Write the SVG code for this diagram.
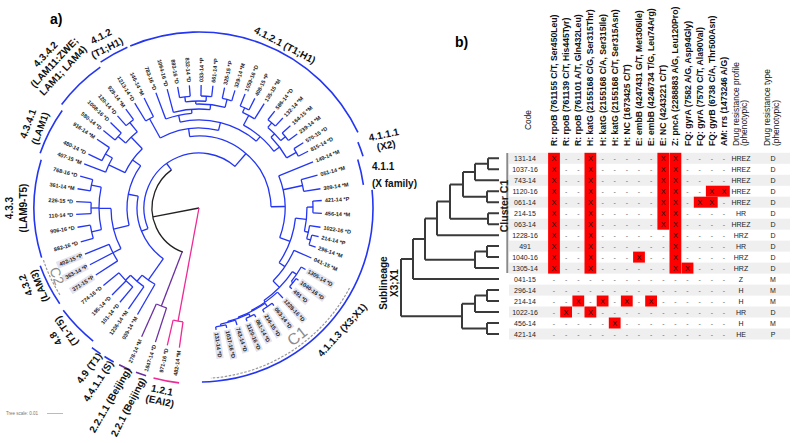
<svg xmlns="http://www.w3.org/2000/svg" width="793" height="443" viewBox="0 0 793 443">
<style>
text{font-family:"Liberation Sans",Arial,sans-serif}
.lf{font-size:5.5px;font-weight:bold;fill:#222}
.ln{font-size:10px;font-weight:bold;fill:#111}
.hd{font-size:8.6px;font-weight:bold;fill:#111}
.hn{font-size:8.4px;fill:#111}
.cd{font-size:7px;fill:#222;text-anchor:middle}
.dx{font-size:7.5px;fill:#111;text-anchor:middle}
.ds{font-size:7px;fill:#666;text-anchor:middle}
.blu{stroke:#2436f2;fill:none;stroke-width:1.3}
.arcL{fill:none;stroke-width:1.6}
.dd{stroke:#3a3a3a;stroke-width:2;fill:none}
</style>
<rect width="793" height="443" fill="#fff"/>
<text x="50" y="24" style="font-size:14px;font-weight:bold">a)</text>
<text x="455" y="47" style="font-size:14px;font-weight:bold">b)</text>

<!-- ===== Panel a: circular tree connectors ===== -->
<g id="tree-connectors" transform="translate(199 208)">
 <g stroke="#222" fill="none" stroke-width="1.3">
  <path d="M0 0H47" transform="rotate(169)"/>
  <circle r="47" stroke-dasharray="101.72 1000" transform="rotate(110)"/>
 </g>
 <g stroke="#ee2a96" fill="none" stroke-width="1.3">
  <path d="M0 0H115" transform="rotate(100.5)"/>
  <circle r="115" stroke-dasharray="10.04 1000" transform="rotate(98)"/>
  <path d="M115 0H141" transform="rotate(98)"/>
  <path d="M115 0H141" transform="rotate(103)"/>
 </g>
 <g stroke="#6b2fa0" fill="none" stroke-width="1.3">
  <path d="M47 0H105" transform="rotate(111)"/>
  <circle r="105" stroke-dasharray="11 1000" transform="rotate(108)"/>
  <path d="M105 0H141" transform="rotate(108)"/>
  <path d="M105 0H141" transform="rotate(114)"/>
 </g>
 <g class="blu">
  <path d="M47 0H55" transform="rotate(234)"/>
  <path d="M55 0H62" transform="rotate(158)"/>
  <path d="M55 0H72" transform="rotate(310.8)"/>
  <path d="M62 0H88" transform="rotate(125.1)"/>
  <path d="M88 0H123" transform="rotate(120)"/>
  <path d="M88 0H96" transform="rotate(130.25)"/>
  <path d="M96 0H123" transform="rotate(125)"/>
  <path d="M96 0H103" transform="rotate(135.5)"/>
  <path d="M103 0H123" transform="rotate(130)"/>
  <path d="M103 0H123" transform="rotate(135)"/>
  <path d="M103 0H123" transform="rotate(141)"/>
  <path d="M62 0H72" transform="rotate(191)"/>
  <path d="M72 0H88" transform="rotate(166.1)"/>
  <path d="M88 0H97" transform="rotate(152.5)"/>
  <path d="M97 0H123" transform="rotate(147)"/>
  <path d="M97 0H123" transform="rotate(152.5)"/>
  <path d="M97 0H123" transform="rotate(158)"/>
  <path d="M88 0H100" transform="rotate(179.75)"/>
  <path d="M100 0H110" transform="rotate(167.5)"/>
  <path d="M110 0H123" transform="rotate(164)"/>
  <path d="M110 0H123" transform="rotate(171)"/>
  <path d="M100 0H108" transform="rotate(180)"/>
  <path d="M108 0H123" transform="rotate(177)"/>
  <path d="M108 0H123" transform="rotate(183)"/>
  <path d="M100 0H110" transform="rotate(192)"/>
  <path d="M110 0H123" transform="rotate(189)"/>
  <path d="M110 0H123" transform="rotate(195)"/>
  <path d="M72 0H82" transform="rotate(215.9)"/>
  <path d="M82 0H100" transform="rotate(205.5)"/>
  <path d="M100 0H123" transform="rotate(201)"/>
  <path d="M100 0H108" transform="rotate(210)"/>
  <path d="M108 0H123" transform="rotate(206)"/>
  <path d="M108 0H123" transform="rotate(214)"/>
  <path d="M82 0H98" transform="rotate(226.25)"/>
  <path d="M98 0H108" transform="rotate(221.5)"/>
  <path d="M108 0H123" transform="rotate(219)"/>
  <path d="M108 0H123" transform="rotate(224)"/>
  <path d="M98 0H110" transform="rotate(231)"/>
  <path d="M110 0H123" transform="rotate(228.5)"/>
  <path d="M110 0H123" transform="rotate(233.5)"/>
  <path d="M72 0H80" transform="rotate(262.55)"/>
  <path d="M80 0H102" transform="rotate(241)"/>
  <path d="M102 0H123" transform="rotate(238.5)"/>
  <path d="M102 0H123" transform="rotate(243.5)"/>
  <path d="M80 0H88" transform="rotate(284.1)"/>
  <path d="M88 0H95" transform="rotate(257.6)"/>
  <path d="M95 0H123" transform="rotate(249.5)"/>
  <path d="M95 0H99" transform="rotate(265.7)"/>
  <path d="M99 0H123" transform="rotate(255)"/>
  <path d="M99 0H104" transform="rotate(276.4)"/>
  <path d="M104 0H107" transform="rotate(268.25)"/>
  <path d="M107 0H112" transform="rotate(262.75)"/>
  <path d="M107 0H112" transform="rotate(273.75)"/>
  <path d="M104 0H112" transform="rotate(284.5)"/>
  <path d="M112 0H123" transform="rotate(260)"/>
  <path d="M112 0H123" transform="rotate(265.5)"/>
  <path d="M112 0H123" transform="rotate(271)"/>
  <path d="M112 0H123" transform="rotate(276.5)"/>
  <path d="M112 0H123" transform="rotate(282)"/>
  <path d="M112 0H123" transform="rotate(287)"/>
  <path d="M88 0H94" transform="rotate(310.6)"/>
  <path d="M94 0H105" transform="rotate(298.25)"/>
  <path d="M105 0H110" transform="rotate(294.5)"/>
  <path d="M110 0H123" transform="rotate(292)"/>
  <path d="M110 0H123" transform="rotate(297)"/>
  <path d="M105 0H123" transform="rotate(302)"/>
  <path d="M94 0H101" transform="rotate(322.9)"/>
  <path d="M101 0H106" transform="rotate(315.5)"/>
  <path d="M106 0H112" transform="rotate(310.5)"/>
  <path d="M106 0H112" transform="rotate(320.5)"/>
  <path d="M101 0H112" transform="rotate(330.25)"/>
  <path d="M112 0H123" transform="rotate(308)"/>
  <path d="M112 0H123" transform="rotate(313)"/>
  <path d="M112 0H123" transform="rotate(318)"/>
  <path d="M112 0H123" transform="rotate(323)"/>
  <path d="M112 0H123" transform="rotate(328)"/>
  <path d="M112 0H123" transform="rotate(332.5)"/>
  <path d="M72 0H86" transform="rotate(359)"/>
  <path d="M86 0H123" transform="rotate(338)"/>
  <path d="M86 0H106" transform="rotate(347.75)"/>
  <path d="M106 0H123" transform="rotate(344.5)"/>
  <path d="M106 0H123" transform="rotate(351)"/>
  <path d="M86 0H97" transform="rotate(20.15)"/>
  <path d="M97 0H108" transform="rotate(6)"/>
  <path d="M108 0H114" transform="rotate(-0.5)"/>
  <path d="M114 0H123" transform="rotate(-3.5)"/>
  <path d="M114 0H123" transform="rotate(2.5)"/>
  <path d="M108 0H112" transform="rotate(12.5)"/>
  <path d="M112 0H123" transform="rotate(9)"/>
  <path d="M112 0H116" transform="rotate(16)"/>
  <path d="M116 0H123" transform="rotate(13.5)"/>
  <path d="M116 0H123" transform="rotate(18.5)"/>
  <path d="M97 0H104" transform="rotate(34.3)"/>
  <path d="M104 0H123" transform="rotate(24)"/>
  <path d="M104 0H113" transform="rotate(44.6)"/>
  <path d="M113 0H118" transform="rotate(34.25)"/>
  <path d="M118 0H123" transform="rotate(30)"/>
  <path d="M118 0H120" transform="rotate(38.5)"/>
  <path d="M120 0H123" transform="rotate(36)"/>
  <path d="M120 0H123" transform="rotate(41)"/>
  <path d="M113 0H115" transform="rotate(54.9)"/>
  <path d="M115 0H123" transform="rotate(47)"/>
  <path d="M115 0H116" transform="rotate(62.75)"/>
  <path d="M116 0H120" transform="rotate(55.25)"/>
  <path d="M120 0H123" transform="rotate(52.5)"/>
  <path d="M120 0H123" transform="rotate(58)"/>
  <path d="M116 0H117" transform="rotate(70.25)"/>
  <path d="M117 0H120" transform="rotate(64.75)"/>
  <path d="M120 0H123" transform="rotate(62.5)"/>
  <path d="M120 0H123" transform="rotate(67)"/>
  <path d="M117 0H118" transform="rotate(75.75)"/>
  <path d="M118 0H123" transform="rotate(72)"/>
  <path d="M118 0H120" transform="rotate(79.5)"/>
  <path d="M120 0H123" transform="rotate(77)"/>
  <path d="M120 0H123" transform="rotate(82)"/>
  <circle r="55" stroke-dasharray="146.68 1000" transform="rotate(158)"/>
  <circle r="62" stroke-dasharray="71.31 1000" transform="rotate(125.1)"/>
  <circle r="88" stroke-dasharray="15.74 1000" transform="rotate(120)"/>
  <circle r="96" stroke-dasharray="17.59 1000" transform="rotate(125)"/>
  <circle r="103" stroke-dasharray="19.77 1000" transform="rotate(130)"/>
  <circle r="72" stroke-dasharray="62.58 1000" transform="rotate(166.1)"/>
  <circle r="88" stroke-dasharray="41.85 1000" transform="rotate(152.5)"/>
  <circle r="97" stroke-dasharray="18.62 1000" transform="rotate(147)"/>
  <circle r="100" stroke-dasharray="42.76 1000" transform="rotate(167.5)"/>
  <circle r="110" stroke-dasharray="11.52 1000" transform="rotate(189)"/>
  <circle r="108" stroke-dasharray="11.31 1000" transform="rotate(177)"/>
  <circle r="110" stroke-dasharray="13.44 1000" transform="rotate(164)"/>
  <circle r="82" stroke-dasharray="29.70 1000" transform="rotate(205.5)"/>
  <circle r="100" stroke-dasharray="15.71 1000" transform="rotate(201)"/>
  <circle r="108" stroke-dasharray="15.08 1000" transform="rotate(206)"/>
  <circle r="98" stroke-dasharray="16.25 1000" transform="rotate(221.5)"/>
  <circle r="108" stroke-dasharray="9.42 1000" transform="rotate(219)"/>
  <circle r="110" stroke-dasharray="9.60 1000" transform="rotate(228.5)"/>
  <circle r="72" stroke-dasharray="121.20 1000" transform="rotate(262.55)"/>
  <circle r="80" stroke-dasharray="60.18 1000" transform="rotate(241)"/>
  <circle r="102" stroke-dasharray="8.90 1000" transform="rotate(238.5)"/>
  <circle r="88" stroke-dasharray="81.40 1000" transform="rotate(257.6)"/>
  <circle r="95" stroke-dasharray="26.86 1000" transform="rotate(249.5)"/>
  <circle r="99" stroke-dasharray="36.98 1000" transform="rotate(255)"/>
  <circle r="104" stroke-dasharray="29.50 1000" transform="rotate(268.25)"/>
  <circle r="107" stroke-dasharray="20.54 1000" transform="rotate(262.75)"/>
  <circle r="112" stroke-dasharray="10.75 1000" transform="rotate(260)"/>
  <circle r="112" stroke-dasharray="10.75 1000" transform="rotate(271)"/>
  <circle r="112" stroke-dasharray="9.77 1000" transform="rotate(282)"/>
  <circle r="94" stroke-dasharray="40.44 1000" transform="rotate(298.25)"/>
  <circle r="105" stroke-dasharray="13.74 1000" transform="rotate(294.5)"/>
  <circle r="110" stroke-dasharray="9.60 1000" transform="rotate(292)"/>
  <circle r="101" stroke-dasharray="26.0 1000" transform="rotate(315.5)"/>
  <circle r="106" stroke-dasharray="18.50 1000" transform="rotate(310.5)"/>
  <circle r="112" stroke-dasharray="9.77 1000" transform="rotate(308)"/>
  <circle r="112" stroke-dasharray="9.77 1000" transform="rotate(318)"/>
  <circle r="112" stroke-dasharray="8.80 1000" transform="rotate(328)"/>
  <circle r="86" stroke-dasharray="63.27 1000" transform="rotate(338)"/>
  <circle r="106" stroke-dasharray="12.03 1000" transform="rotate(344.5)"/>
  <circle r="97" stroke-dasharray="47.91 1000" transform="rotate(6)"/>
  <circle r="108" stroke-dasharray="24.50 1000" transform="rotate(-0.5)"/>
  <circle r="114" stroke-dasharray="11.94 1000" transform="rotate(-3.5)"/>
  <circle r="112" stroke-dasharray="13.68 1000" transform="rotate(9)"/>
  <circle r="116" stroke-dasharray="10.12 1000" transform="rotate(13.5)"/>
  <circle r="104" stroke-dasharray="37.39 1000" transform="rotate(24)"/>
  <circle r="113" stroke-dasharray="40.73 1000" transform="rotate(34.25)"/>
  <circle r="118" stroke-dasharray="17.51 1000" transform="rotate(30)"/>
  <circle r="120" stroke-dasharray="10.47 1000" transform="rotate(36)"/>
  <circle r="115" stroke-dasharray="31.91 1000" transform="rotate(47)"/>
  <circle r="116" stroke-dasharray="30.37 1000" transform="rotate(55.25)"/>
  <circle r="120" stroke-dasharray="11.52 1000" transform="rotate(52.5)"/>
  <circle r="117" stroke-dasharray="22.46 1000" transform="rotate(64.75)"/>
  <circle r="120" stroke-dasharray="9.42 1000" transform="rotate(62.5)"/>
  <circle r="118" stroke-dasharray="15.45 1000" transform="rotate(72)"/>
  <circle r="120" stroke-dasharray="10.47 1000" transform="rotate(77)"/>
 </g>
 <!-- lineage arcs -->
 <g class="arcL" stroke="#2436f2">
  <circle r="176" stroke-dasharray="30.72 1200" transform="rotate(236)"/>
  <circle r="176" stroke-dasharray="268.77 1200" transform="rotate(247)"/>
  <circle r="172" stroke-dasharray="15.01 1200" transform="rotate(337.5)"/>
  <circle r="166" stroke-dasharray="26.08 1200" transform="rotate(343)"/>
  <circle r="174" stroke-dasharray="288.5 1200" transform="rotate(354)"/>
  <circle r="172" stroke-dasharray="54.04 1200" transform="rotate(217)"/>
  <circle r="168" stroke-dasharray="48.38 1200" transform="rotate(199)"/>
  <circle r="165" stroke-dasharray="99.35 1200" transform="rotate(162.5)"/>
  <circle r="169" stroke-dasharray="42.77 1200" transform="rotate(145.5)"/>
  <circle r="170" stroke-dasharray="43.02 1200" transform="rotate(128.5)"/>
  <circle r="176" stroke-dasharray="10.75 1200" transform="rotate(124)"/>
  <circle r="176" stroke-dasharray="10.75 1200" transform="rotate(119)"/>
 </g>
 <g class="arcL" stroke="#6b2fa0">
  <circle r="176" stroke-dasharray="12.29 1200" transform="rotate(113)"/>
  <circle r="176" stroke-dasharray="10.75 1200" transform="rotate(107.5)"/>
 </g>
 <g class="arcL" stroke="#ee2a96">
  <circle r="176" stroke-dasharray="26.11 1200" transform="rotate(96.5)"/>
 </g>
</g>
<g id="cluster-dashes" fill="none" stroke="#999" stroke-width="1.2" stroke-dasharray="2.5 1.5">
 <path d="M349.5 288.05A170.5 170.5 0 0 1 210.9 378.1"/>
 <path d="M59.9 294.9A164 164 0 0 1 43 258.7"/>
</g>

<!-- leaves -->
<g id="leaves" class="lf" transform="translate(199 208)">
 <g fill="#e3e3ef">
  <rect transform="rotate(82)" x="125" y="-3.6" width="27" height="7.2"/>
  <rect transform="rotate(77)" x="125" y="-3.6" width="30" height="7.2"/>
  <rect transform="rotate(72)" x="125" y="-3.6" width="27" height="7.2"/>
  <rect transform="rotate(67)" x="125" y="-3.6" width="30" height="7.2"/>
  <rect transform="rotate(62.5)" x="125" y="-3.6" width="27" height="7.2"/>
  <rect transform="rotate(58)" x="125" y="-3.6" width="27" height="7.2"/>
  <rect transform="rotate(52.5)" x="125" y="-3.6" width="27" height="7.2"/>
  <rect transform="rotate(47)" x="125" y="-3.6" width="30" height="7.2"/>
  <rect transform="rotate(41)" x="125" y="-3.6" width="19" height="7.2"/>
  <rect transform="rotate(36)" x="125" y="-3.6" width="30" height="7.2"/>
  <rect transform="rotate(30)" x="125" y="-3.6" width="30" height="7.2"/>
  <rect transform="rotate(-22)" x="-153" y="-3.6" width="27" height="7.2"/>
  <rect transform="rotate(-27.5)" x="-153" y="-3.6" width="27" height="7.2"/>
  <rect transform="rotate(-33)" x="-153" y="-3.6" width="27" height="7.2"/>
 </g>
 <g id="leaf-right">
  <text transform="rotate(82)" x="126" dy=".35em">131-14 *D</text>
  <text transform="rotate(77)" x="126" dy=".35em">1037-16 *D</text>
  <text transform="rotate(72)" x="126" dy=".35em">743-14 *D</text>
  <text transform="rotate(67)" x="126" dy=".35em">1120-16 *D</text>
  <text transform="rotate(62.5)" x="126" dy=".35em">061-14 *D</text>
  <text transform="rotate(58)" x="126" dy=".35em">214-15 *D</text>
  <text transform="rotate(52.5)" x="126" dy=".35em">063-14 *D</text>
  <text transform="rotate(47)" x="126" dy=".35em">1228-16 *D</text>
  <text transform="rotate(41)" x="126" dy=".35em">491 *D</text>
  <text transform="rotate(36)" x="126" dy=".35em">1040-16 *D</text>
  <text transform="rotate(30)" x="126" dy=".35em">1305-14 *D</text>
  <text transform="rotate(24)" x="126" dy=".35em">041-15 *M</text>
  <text transform="rotate(18.5)" x="126" dy=".35em">296-14 *M</text>
  <text transform="rotate(13.5)" x="126" dy=".35em">214-14 *P</text>
  <text transform="rotate(9)" x="126" dy=".35em">1022-16 *D</text>
  <text transform="rotate(2.5)" x="126" dy=".35em">456-14 *M</text>
  <text transform="rotate(-3.5)" x="126" dy=".35em">421-14 *P</text>
  <text transform="rotate(-9)" x="126" dy=".35em">309-14 *M</text>
  <text transform="rotate(-15.5)" x="126" dy=".35em">051-14 *M</text>
  <text transform="rotate(-22)" x="126" dy=".35em">149-14 *M</text>
  <text transform="rotate(-27.5)" x="126" dy=".35em">815-14 *D</text>
  <text transform="rotate(-32)" x="126" dy=".35em">570-15 *D</text>
  <text transform="rotate(-37)" x="126" dy=".35em">239-14 *M</text>
  <text transform="rotate(-42)" x="126" dy=".35em">164-15 *M</text>
  <text transform="rotate(-47)" x="126" dy=".35em">132-14 *M</text>
  <text transform="rotate(-52)" x="126" dy=".35em">586-14 *D</text>
  <text transform="rotate(-58)" x="126" dy=".35em">135-15 *M</text>
  <text transform="rotate(-63)" x="126" dy=".35em">408-15 *P</text>
  <text transform="rotate(-68)" x="126" dy=".35em">1059-16 *D</text>
  <text transform="rotate(-73)" x="126" dy=".35em">329-14 *M</text>
  <text transform="rotate(-78)" x="126" dy=".35em">325-15 *P</text>
  <text transform="rotate(-83.5)" x="126" dy=".35em">661-14 *P</text>
  <text transform="rotate(-89)" x="126" dy=".35em">033-14 *P</text>
 </g>
 <g id="leaf-left" text-anchor="end">
  <text transform="rotate(85.5)" x="-126" dy=".35em">832-14 *D</text>
  <text transform="rotate(80)" x="-126" dy=".35em">893-16 *D</text>
  <text transform="rotate(75)" x="-126" dy=".35em">1064-16 *D</text>
  <text transform="rotate(69.5)" x="-126" dy=".35em">783-16 *D</text>
  <text transform="rotate(63.5)" x="-126" dy=".35em">146-14 *M</text>
  <text transform="rotate(58.5)" x="-126" dy=".35em">1213-14 *D</text>
  <text transform="rotate(53.5)" x="-126" dy=".35em">929-14 *M</text>
  <text transform="rotate(48.5)" x="-126" dy=".35em">120-14 *D</text>
  <text transform="rotate(44)" x="-126" dy=".35em">1008-16 *D</text>
  <text transform="rotate(39)" x="-126" dy=".35em">580-14 *D</text>
  <text transform="rotate(34)" x="-126" dy=".35em">916-14 *M</text>
  <text transform="rotate(26)" x="-126" dy=".35em">480-14 *D</text>
  <text transform="rotate(21)" x="-126" dy=".35em">407-15 *M</text>
  <text transform="rotate(15)" x="-126" dy=".35em">768-16 *D</text>
  <text transform="rotate(9)" x="-126" dy=".35em">361-14 *M</text>
  <text transform="rotate(3)" x="-126" dy=".35em">226-15 *D</text>
  <text transform="rotate(-3)" x="-126" dy=".35em">110-14 *D</text>
  <text transform="rotate(-9)" x="-126" dy=".35em">906-16 *D</text>
  <text transform="rotate(-16)" x="-126" dy=".35em">882-16 *D</text>
  <text transform="rotate(-22)" x="-126" dy=".35em">402-15 *P</text>
  <text transform="rotate(-27.5)" x="-126" dy=".35em">363-14 *P</text>
  <text transform="rotate(-33)" x="-126" dy=".35em">371-15 *P</text>
  <text transform="rotate(-39)" x="-126" dy=".35em">774-16 *D</text>
  <text transform="rotate(-45)" x="-126" dy=".35em">195-14 *D</text>
  <text transform="rotate(-50)" x="-126" dy=".35em">101-14 *D</text>
  <text transform="rotate(-55)" x="-126" dy=".35em">1236-14 *M</text>
  <text transform="rotate(-60)" x="-126" dy=".35em">039-14 *M</text>
  <text transform="rotate(-66)" x="-144" dy=".35em">278-14 *M</text>
  <text transform="rotate(-72)" x="-144" dy=".35em">1847-14 *D</text>
  <text transform="rotate(-77)" x="-144" dy=".35em">971-16 *D</text>
  <text transform="rotate(-82)" x="-144" dy=".35em">482-14 *M</text>
 </g>
</g>

<!-- lineage labels -->
<g id="lin-4.1.2" class="ln" text-anchor="middle" transform="translate(104 42) rotate(-27)"><text y="-3">4.1.2</text><text y="10">(T1;H1)</text></g>
<g id="lin-4.1.2.1" class="ln" text-anchor="middle" transform="translate(285 45) rotate(28)"><text y="3.6">4.1.2.1 (T1;H1)</text></g>
<g id="lin-4.1.1.1" class="ln" text-anchor="middle" transform="translate(385 140) rotate(-12)"><text y="-2">4.1.1.1</text><text y="9">(X2)</text></g>
<g id="lin-4.1.1" class="ln"><text x="372" y="170">4.1.1</text><text x="372" y="187">(X family)</text></g>
<g id="lin-4.1.1.3" class="ln" text-anchor="middle" transform="translate(342 330) rotate(-48)"><text y="3.6">4.1.1.3 (X3;X1)</text></g>
<g id="lab-C1"><text transform="translate(297 336) rotate(-38)" text-anchor="middle" dy=".35em" style="font-size:16px;fill:#8c8c8c">C1</text></g>
<g id="lab-C2"><text transform="translate(57 276) rotate(70)" text-anchor="middle" dy=".35em" style="font-size:14px;fill:#8c8c8c">C2</text></g>
<g id="lin-4.3.4.2" class="ln" text-anchor="middle" transform="translate(56 64) rotate(-47)"><text y="-11">4.3.4.2</text><text y="1">(LAM11:ZWE;</text><text y="13">LAM1; LAM4)</text></g>
<g id="lin-4.3.4.1" class="ln" text-anchor="middle" transform="translate(34 126) rotate(-70)"><text y="-3">4.3.4.1</text><text y="10">(LAM1)</text></g>
<g id="lin-4.3.3" class="ln" text-anchor="middle" transform="translate(16 208) rotate(-90)"><text y="-3">4.3.3</text><text y="10.5">(LAM9-T5)</text></g>
<g id="lin-4.3.2" class="ln" text-anchor="end" transform="translate(24.6 273.5) rotate(-112)"><text y="0">4.3.2</text><text y="12.5">(LAM3)</text></g>
<g id="lin-4.8" class="ln" text-anchor="middle" transform="translate(61 335) rotate(-125)"><text y="-3">4.8</text><text y="10">(T1-T5)</text></g>
<g id="lin-4.9" class="ln" text-anchor="middle" transform="translate(89 368) rotate(-53)"><text y="3.6">4.9 (T1)</text></g>
<g id="lin-4.4.1.1" class="ln" text-anchor="middle" transform="translate(98 381) rotate(-57)"><text y="3.6">4.4.1.1 (S)</text></g>
<g id="lin-2.2.1.1" class="ln" text-anchor="middle" transform="translate(110 400) rotate(-60)"><text y="3.6">2.2.1.1 (Beijing)</text></g>
<g id="lin-2.2.1" class="ln" text-anchor="middle" transform="translate(128 407) rotate(-63)"><text y="3.6">2.2.1 (Beijing)</text></g>
<g id="lin-1.2.1" class="ln" text-anchor="middle" transform="translate(161 395.5) rotate(12)"><text y="-1.9">1.2.1</text><text y="9.1">(EAI2)</text></g>
<g id="scale"><text x="6" y="415" style="font-size:4.5px;fill:#777">Tree scale: 0.01</text><path d="M47 413.5H63" stroke="#aaa" stroke-width="0.8"/></g>

<!-- ===== Panel b ===== -->
<g id="headers">
 <text class="hn" transform="translate(531 130) rotate(-90)">Code</text>
 <g class="hd">
  <text transform="translate(557 146) rotate(-90)">R: rpoB (761155 C/T, Ser450Leu)</text>
  <text transform="translate(569.1 146) rotate(-90)">R: rpoB (761139 C/T, His445Tyr)</text>
  <text transform="translate(581.3 146) rotate(-90)">R: rpoB (761101 A/T, Gln432Leu)</text>
  <text transform="translate(593.4 146) rotate(-90)">H: katG (2155168 C/G, Ser315Thr)</text>
  <text transform="translate(605.6 146) rotate(-90)">H: katG (2155168 C/A, Ser315Ile)</text>
  <text transform="translate(617.7 146) rotate(-90)">H: katG (2155168 C/T, Ser315Asn)</text>
  <text transform="translate(629.8 146) rotate(-90)">H: NC (1673425 C/T)</text>
  <text transform="translate(642 146) rotate(-90)">E: embB (4247431 G/T, Met306Ile)</text>
  <text transform="translate(654.1 146) rotate(-90)">E: embB (4246734 T/G, Leu74Arg)</text>
  <text transform="translate(666.3 146) rotate(-90)">E: NC (4243221 C/T)</text>
  <text transform="translate(678.4 146) rotate(-90)">Z: pncA (2288883 A/G, Leu120Pro)</text>
  <text transform="translate(690.5 146) rotate(-90)">FQ: gyrA (7582 A/G, Asp94Gly)</text>
  <text transform="translate(702.7 146) rotate(-90)">FQ: gyrA (7570 C/T, Ala90Val)</text>
  <text transform="translate(714.8 146) rotate(-90)">FQ: gyrB (6738 C/A, Thr500Asn)</text>
  <text transform="translate(727 146) rotate(-90)">AM: rrs (1473246 A/G)</text>
 </g>
 <g class="hn">
  <text transform="translate(738.5 146) rotate(-90)">Drug resistance profile</text>
  <text transform="translate(747 146) rotate(-90)">(phenotypic)</text>
  <text transform="translate(770 146) rotate(-90)">Drug resistance type</text>
  <text transform="translate(778.5 146) rotate(-90)">(phenotypic)</text>
 </g>
</g>

<g id="row-bands" fill="#efefef">
 <rect x="509" y="152.8" width="281" height="11"/>
 <rect x="509" y="174.8" width="281" height="11"/>
 <rect x="509" y="196.7" width="281" height="11"/>
 <rect x="509" y="218.7" width="281" height="11"/>
 <rect x="509" y="240.6" width="281" height="11"/>
 <rect x="509" y="262.6" width="281" height="11"/>
 <rect x="509" y="284.6" width="281" height="11"/>
 <rect x="509" y="306.5" width="281" height="11"/>
 <rect x="509" y="328.5" width="281" height="11"/>
</g>

<g id="red-cells" fill="#ff0000">
 <rect x="548.1" y="152.8" width="11.8" height="120.8"/>
 <rect x="584.5" y="152.8" width="11.8" height="120.8"/>
 <rect x="657.4" y="152.8" width="11.8" height="76.9"/>
 <rect x="669.5" y="152.8" width="11.8" height="120.8"/>
 <rect x="705.9" y="185.7" width="23.9" height="11"/>
 <rect x="693.8" y="196.7" width="23.9" height="11"/>
 <rect x="633.1" y="251.6" width="11.8" height="11"/>
 <rect x="681.6" y="262.6" width="11.8" height="11"/>
 <rect x="572.4" y="295.5" width="11.8" height="11"/>
 <rect x="596.7" y="295.5" width="11.8" height="11"/>
 <rect x="620.9" y="295.5" width="11.8" height="11"/>
 <rect x="645.2" y="295.5" width="11.8" height="11"/>
 <rect x="560.2" y="306.5" width="11.8" height="11"/>
 <rect x="584.5" y="306.5" width="11.8" height="11"/>
 <rect x="608.8" y="317.5" width="11.8" height="11"/>
</g>

<g id="cells">
 <g id="row-131-14"><text class="cd" x="525" y="160.8">131-14</text><text class="dx" x="554" y="161">X</text><text class="ds" x="566.1" y="160.8">-</text><text class="ds" x="578.3" y="160.8">-</text><text class="dx" x="590.4" y="161">X</text><text class="ds" x="602.6" y="160.8">-</text><text class="ds" x="614.7" y="160.8">-</text><text class="ds" x="626.8" y="160.8">-</text><text class="ds" x="639" y="160.8">-</text><text class="ds" x="651.1" y="160.8">-</text><text class="dx" x="663.3" y="161">X</text><text class="dx" x="675.4" y="161">X</text><text class="ds" x="687.5" y="160.8">-</text><text class="ds" x="699.7" y="160.8">-</text><text class="ds" x="711.8" y="160.8">-</text><text class="ds" x="724" y="160.8">-</text><text class="cd" x="741" y="160.8">HREZ</text><text class="cd" x="773" y="160.8">D</text></g>
 <g id="row-1037-16"><text class="cd" x="525" y="171.8">1037-16</text><text class="dx" x="554" y="172">X</text><text class="ds" x="566.1" y="171.8">-</text><text class="ds" x="578.3" y="171.8">-</text><text class="dx" x="590.4" y="172">X</text><text class="ds" x="602.6" y="171.8">-</text><text class="ds" x="614.7" y="171.8">-</text><text class="ds" x="626.8" y="171.8">-</text><text class="ds" x="639" y="171.8">-</text><text class="ds" x="651.1" y="171.8">-</text><text class="dx" x="663.3" y="172">X</text><text class="dx" x="675.4" y="172">X</text><text class="ds" x="687.5" y="171.8">-</text><text class="ds" x="699.7" y="171.8">-</text><text class="ds" x="711.8" y="171.8">-</text><text class="ds" x="724" y="171.8">-</text><text class="cd" x="741" y="171.8">HREZ</text><text class="cd" x="773" y="171.8">D</text></g>
 <g id="row-743-14"><text class="cd" x="525" y="182.8">743-14</text><text class="dx" x="554" y="183">X</text><text class="ds" x="566.1" y="182.8">-</text><text class="ds" x="578.3" y="182.8">-</text><text class="dx" x="590.4" y="183">X</text><text class="ds" x="602.6" y="182.8">-</text><text class="ds" x="614.7" y="182.8">-</text><text class="ds" x="626.8" y="182.8">-</text><text class="ds" x="639" y="182.8">-</text><text class="ds" x="651.1" y="182.8">-</text><text class="dx" x="663.3" y="183">X</text><text class="dx" x="675.4" y="183">X</text><text class="ds" x="687.5" y="182.8">-</text><text class="ds" x="699.7" y="182.8">-</text><text class="ds" x="711.8" y="182.8">-</text><text class="ds" x="724" y="182.8">-</text><text class="cd" x="741" y="182.8">HREZ</text><text class="cd" x="773" y="182.8">D</text></g>
 <g id="row-1120-16"><text class="cd" x="525" y="193.7">1120-16</text><text class="dx" x="554" y="193.9">X</text><text class="ds" x="566.1" y="193.7">-</text><text class="ds" x="578.3" y="193.7">-</text><text class="dx" x="590.4" y="193.9">X</text><text class="ds" x="602.6" y="193.7">-</text><text class="ds" x="614.7" y="193.7">-</text><text class="ds" x="626.8" y="193.7">-</text><text class="ds" x="639" y="193.7">-</text><text class="ds" x="651.1" y="193.7">-</text><text class="dx" x="663.3" y="193.9">X</text><text class="dx" x="675.4" y="193.9">X</text><text class="ds" x="687.5" y="193.7">-</text><text class="ds" x="699.7" y="193.7">-</text><text class="dx" x="711.8" y="193.9">X</text><text class="dx" x="724" y="193.9">X</text><text class="cd" x="741" y="193.7">HREZ</text><text class="cd" x="773" y="193.7">D</text></g>
 <g id="row-061-14"><text class="cd" x="525" y="204.7">061-14</text><text class="dx" x="554" y="204.9">X</text><text class="ds" x="566.1" y="204.7">-</text><text class="ds" x="578.3" y="204.7">-</text><text class="dx" x="590.4" y="204.9">X</text><text class="ds" x="602.6" y="204.7">-</text><text class="ds" x="614.7" y="204.7">-</text><text class="ds" x="626.8" y="204.7">-</text><text class="ds" x="639" y="204.7">-</text><text class="ds" x="651.1" y="204.7">-</text><text class="dx" x="663.3" y="204.9">X</text><text class="dx" x="675.4" y="204.9">X</text><text class="ds" x="687.5" y="204.7">-</text><text class="dx" x="699.7" y="204.9">X</text><text class="dx" x="711.8" y="204.9">X</text><text class="ds" x="724" y="204.7">-</text><text class="cd" x="741" y="204.7">HREZ</text><text class="cd" x="773" y="204.7">D</text></g>
 <g id="row-214-15"><text class="cd" x="525" y="215.7">214-15</text><text class="dx" x="554" y="215.9">X</text><text class="ds" x="566.1" y="215.7">-</text><text class="ds" x="578.3" y="215.7">-</text><text class="dx" x="590.4" y="215.9">X</text><text class="ds" x="602.6" y="215.7">-</text><text class="ds" x="614.7" y="215.7">-</text><text class="ds" x="626.8" y="215.7">-</text><text class="ds" x="639" y="215.7">-</text><text class="ds" x="651.1" y="215.7">-</text><text class="dx" x="663.3" y="215.9">X</text><text class="dx" x="675.4" y="215.9">X</text><text class="ds" x="687.5" y="215.7">-</text><text class="ds" x="699.7" y="215.7">-</text><text class="ds" x="711.8" y="215.7">-</text><text class="ds" x="724" y="215.7">-</text><text class="cd" x="741" y="215.7">HR</text><text class="cd" x="773" y="215.7">D</text></g>
 <g id="row-063-14"><text class="cd" x="525" y="226.7">063-14</text><text class="dx" x="554" y="226.9">X</text><text class="ds" x="566.1" y="226.7">-</text><text class="ds" x="578.3" y="226.7">-</text><text class="dx" x="590.4" y="226.9">X</text><text class="ds" x="602.6" y="226.7">-</text><text class="ds" x="614.7" y="226.7">-</text><text class="ds" x="626.8" y="226.7">-</text><text class="ds" x="639" y="226.7">-</text><text class="ds" x="651.1" y="226.7">-</text><text class="dx" x="663.3" y="226.9">X</text><text class="dx" x="675.4" y="226.9">X</text><text class="ds" x="687.5" y="226.7">-</text><text class="ds" x="699.7" y="226.7">-</text><text class="ds" x="711.8" y="226.7">-</text><text class="ds" x="724" y="226.7">-</text><text class="cd" x="741" y="226.7">HREZ</text><text class="cd" x="773" y="226.7">D</text></g>
 <g id="row-1228-16"><text class="cd" x="525" y="237.7">1228-16</text><text class="dx" x="554" y="237.9">X</text><text class="ds" x="566.1" y="237.7">-</text><text class="ds" x="578.3" y="237.7">-</text><text class="dx" x="590.4" y="237.9">X</text><text class="ds" x="602.6" y="237.7">-</text><text class="ds" x="614.7" y="237.7">-</text><text class="ds" x="626.8" y="237.7">-</text><text class="ds" x="639" y="237.7">-</text><text class="ds" x="651.1" y="237.7">-</text><text class="ds" x="663.3" y="237.7">-</text><text class="dx" x="675.4" y="237.9">X</text><text class="ds" x="687.5" y="237.7">-</text><text class="ds" x="699.7" y="237.7">-</text><text class="ds" x="711.8" y="237.7">-</text><text class="ds" x="724" y="237.7">-</text><text class="cd" x="741" y="237.7">HRZ</text><text class="cd" x="773" y="237.7">D</text></g>
 <g id="row-491"><text class="cd" x="525" y="248.6">491</text><text class="dx" x="554" y="248.8">X</text><text class="ds" x="566.1" y="248.6">-</text><text class="ds" x="578.3" y="248.6">-</text><text class="dx" x="590.4" y="248.8">X</text><text class="ds" x="602.6" y="248.6">-</text><text class="ds" x="614.7" y="248.6">-</text><text class="ds" x="626.8" y="248.6">-</text><text class="ds" x="639" y="248.6">-</text><text class="ds" x="651.1" y="248.6">-</text><text class="ds" x="663.3" y="248.6">-</text><text class="dx" x="675.4" y="248.8">X</text><text class="ds" x="687.5" y="248.6">-</text><text class="ds" x="699.7" y="248.6">-</text><text class="ds" x="711.8" y="248.6">-</text><text class="ds" x="724" y="248.6">-</text><text class="cd" x="741" y="248.6">HR</text><text class="cd" x="773" y="248.6">D</text></g>
 <g id="row-1040-16"><text class="cd" x="525" y="259.6">1040-16</text><text class="dx" x="554" y="259.8">X</text><text class="ds" x="566.1" y="259.6">-</text><text class="ds" x="578.3" y="259.6">-</text><text class="dx" x="590.4" y="259.8">X</text><text class="ds" x="602.6" y="259.6">-</text><text class="ds" x="614.7" y="259.6">-</text><text class="ds" x="626.8" y="259.6">-</text><text class="dx" x="639" y="259.8">X</text><text class="ds" x="651.1" y="259.6">-</text><text class="ds" x="663.3" y="259.6">-</text><text class="dx" x="675.4" y="259.8">X</text><text class="ds" x="687.5" y="259.6">-</text><text class="ds" x="699.7" y="259.6">-</text><text class="ds" x="711.8" y="259.6">-</text><text class="ds" x="724" y="259.6">-</text><text class="cd" x="741" y="259.6">HRZ</text><text class="cd" x="773" y="259.6">D</text></g>
 <g id="row-1305-14"><text class="cd" x="525" y="270.6">1305-14</text><text class="dx" x="554" y="270.8">X</text><text class="ds" x="566.1" y="270.6">-</text><text class="ds" x="578.3" y="270.6">-</text><text class="dx" x="590.4" y="270.8">X</text><text class="ds" x="602.6" y="270.6">-</text><text class="ds" x="614.7" y="270.6">-</text><text class="ds" x="626.8" y="270.6">-</text><text class="ds" x="639" y="270.6">-</text><text class="ds" x="651.1" y="270.6">-</text><text class="ds" x="663.3" y="270.6">-</text><text class="dx" x="675.4" y="270.8">X</text><text class="dx" x="687.5" y="270.8">X</text><text class="ds" x="699.7" y="270.6">-</text><text class="ds" x="711.8" y="270.6">-</text><text class="ds" x="724" y="270.6">-</text><text class="cd" x="741" y="270.6">HRZ</text><text class="cd" x="773" y="270.6">D</text></g>
 <g id="row-041-15"><text class="cd" x="525" y="281.6">041-15</text><text class="ds" x="554" y="281.6">-</text><text class="ds" x="566.1" y="281.6">-</text><text class="ds" x="578.3" y="281.6">-</text><text class="ds" x="590.4" y="281.6">-</text><text class="ds" x="602.6" y="281.6">-</text><text class="ds" x="614.7" y="281.6">-</text><text class="ds" x="626.8" y="281.6">-</text><text class="ds" x="639" y="281.6">-</text><text class="ds" x="651.1" y="281.6">-</text><text class="ds" x="663.3" y="281.6">-</text><text class="ds" x="675.4" y="281.6">-</text><text class="ds" x="687.5" y="281.6">-</text><text class="ds" x="699.7" y="281.6">-</text><text class="ds" x="711.8" y="281.6">-</text><text class="ds" x="724" y="281.6">-</text><text class="cd" x="741" y="281.6">Z</text><text class="cd" x="773" y="281.6">M</text></g>
 <g id="row-296-14"><text class="cd" x="525" y="292.6">296-14</text><text class="ds" x="554" y="292.6">-</text><text class="ds" x="566.1" y="292.6">-</text><text class="ds" x="578.3" y="292.6">-</text><text class="ds" x="590.4" y="292.6">-</text><text class="ds" x="602.6" y="292.6">-</text><text class="ds" x="614.7" y="292.6">-</text><text class="ds" x="626.8" y="292.6">-</text><text class="ds" x="639" y="292.6">-</text><text class="ds" x="651.1" y="292.6">-</text><text class="ds" x="663.3" y="292.6">-</text><text class="ds" x="675.4" y="292.6">-</text><text class="ds" x="687.5" y="292.6">-</text><text class="ds" x="699.7" y="292.6">-</text><text class="ds" x="711.8" y="292.6">-</text><text class="ds" x="724" y="292.6">-</text><text class="cd" x="741" y="292.6">H</text><text class="cd" x="773" y="292.6">M</text></g>
 <g id="row-214-14"><text class="cd" x="525" y="303.5">214-14</text><text class="ds" x="554" y="303.5">-</text><text class="ds" x="566.1" y="303.5">-</text><text class="dx" x="578.3" y="303.7">X</text><text class="ds" x="590.4" y="303.5">-</text><text class="dx" x="602.6" y="303.7">X</text><text class="ds" x="614.7" y="303.5">-</text><text class="dx" x="626.8" y="303.7">X</text><text class="ds" x="639" y="303.5">-</text><text class="dx" x="651.1" y="303.7">X</text><text class="ds" x="663.3" y="303.5">-</text><text class="ds" x="675.4" y="303.5">-</text><text class="ds" x="687.5" y="303.5">-</text><text class="ds" x="699.7" y="303.5">-</text><text class="ds" x="711.8" y="303.5">-</text><text class="ds" x="724" y="303.5">-</text><text class="cd" x="741" y="303.5">H</text><text class="cd" x="773" y="303.5">M</text></g>
 <g id="row-1022-16"><text class="cd" x="525" y="314.5">1022-16</text><text class="ds" x="554" y="314.5">-</text><text class="dx" x="566.1" y="314.7">X</text><text class="ds" x="578.3" y="314.5">-</text><text class="dx" x="590.4" y="314.7">X</text><text class="ds" x="602.6" y="314.5">-</text><text class="ds" x="614.7" y="314.5">-</text><text class="ds" x="626.8" y="314.5">-</text><text class="ds" x="639" y="314.5">-</text><text class="ds" x="651.1" y="314.5">-</text><text class="ds" x="663.3" y="314.5">-</text><text class="ds" x="675.4" y="314.5">-</text><text class="ds" x="687.5" y="314.5">-</text><text class="ds" x="699.7" y="314.5">-</text><text class="ds" x="711.8" y="314.5">-</text><text class="ds" x="724" y="314.5">-</text><text class="cd" x="741" y="314.5">HR</text><text class="cd" x="773" y="314.5">D</text></g>
 <g id="row-456-14"><text class="cd" x="525" y="325.5">456-14</text><text class="ds" x="554" y="325.5">-</text><text class="ds" x="566.1" y="325.5">-</text><text class="ds" x="578.3" y="325.5">-</text><text class="ds" x="590.4" y="325.5">-</text><text class="ds" x="602.6" y="325.5">-</text><text class="dx" x="614.7" y="325.7">X</text><text class="ds" x="626.8" y="325.5">-</text><text class="ds" x="639" y="325.5">-</text><text class="ds" x="651.1" y="325.5">-</text><text class="ds" x="663.3" y="325.5">-</text><text class="ds" x="675.4" y="325.5">-</text><text class="ds" x="687.5" y="325.5">-</text><text class="ds" x="699.7" y="325.5">-</text><text class="ds" x="711.8" y="325.5">-</text><text class="ds" x="724" y="325.5">-</text><text class="cd" x="741" y="325.5">H</text><text class="cd" x="773" y="325.5">M</text></g>
 <g id="row-421-14"><text class="cd" x="525" y="336.5">421-14</text><text class="ds" x="554" y="336.5">-</text><text class="ds" x="566.1" y="336.5">-</text><text class="ds" x="578.3" y="336.5">-</text><text class="ds" x="590.4" y="336.5">-</text><text class="ds" x="602.6" y="336.5">-</text><text class="ds" x="614.7" y="336.5">-</text><text class="ds" x="626.8" y="336.5">-</text><text class="ds" x="639" y="336.5">-</text><text class="ds" x="651.1" y="336.5">-</text><text class="ds" x="663.3" y="336.5">-</text><text class="ds" x="675.4" y="336.5">-</text><text class="ds" x="687.5" y="336.5">-</text><text class="ds" x="699.7" y="336.5">-</text><text class="ds" x="711.8" y="336.5">-</text><text class="ds" x="724" y="336.5">-</text><text class="cd" x="741" y="336.5">HE</text><text class="cd" x="773" y="336.5">P</text></g>
</g>

<g id="dendrogram-b" class="dd">
 <path d="M488 158.3H499M488 169.3H499M488 158.3V169.3M475 163.8H488"/>
 <path d="M475 180.3H499M475 163.8V180.3M463 172.05H475"/>
 <path d="M487 191.2H499M487 202.2H499M487 191.2V202.2M463 196.7H487"/>
 <path d="M463 172.05V196.7M450 184.4H463"/>
 <path d="M488 213.2H499M488 224.2H499M488 213.2V224.2M450 218.7H488"/>
 <path d="M450 184.4V218.7M437 201.55H450"/>
 <path d="M437 235.2H499M437 201.55V235.2M425 218.4H437"/>
 <path d="M487 246.1H499M487 257.1H499M487 246.1V257.1M475 251.6H487"/>
 <path d="M475 268.1H499M475 251.6V268.1M425 259.85H475"/>
 <path d="M425 218.4V259.85M413 239.1H425"/>
 <path d="M413 279.1H499M413 239.1V279.1M401 259.1H413"/>
 <path d="M487 290.1H499M487 301H499M487 290.1V301M475 295.55H487"/>
 <path d="M475 312H499M475 295.55V312M462 303.8H475"/>
 <path d="M487 323H499M487 334H499M487 323V334M462 328.5H487"/>
 <path d="M462 303.8V328.5M401 316.15H462"/>
 <path d="M401 259.1V316.15"/>
</g>
<g id="cluster-C1">
 <path d="M507.3 153V273" stroke="#8a8a8a" stroke-width="2"/>
 <text transform="translate(508 206) rotate(-90)" text-anchor="middle" style="font-size:10.5px;font-weight:bold;fill:#222">Cluster C1</text>
</g>
<g id="sublineage" class="ln" text-anchor="middle" transform="translate(392 283) rotate(-90)"><text y="-5">Sublineage</text><text y="6">X3;X1</text></g>
</svg>
